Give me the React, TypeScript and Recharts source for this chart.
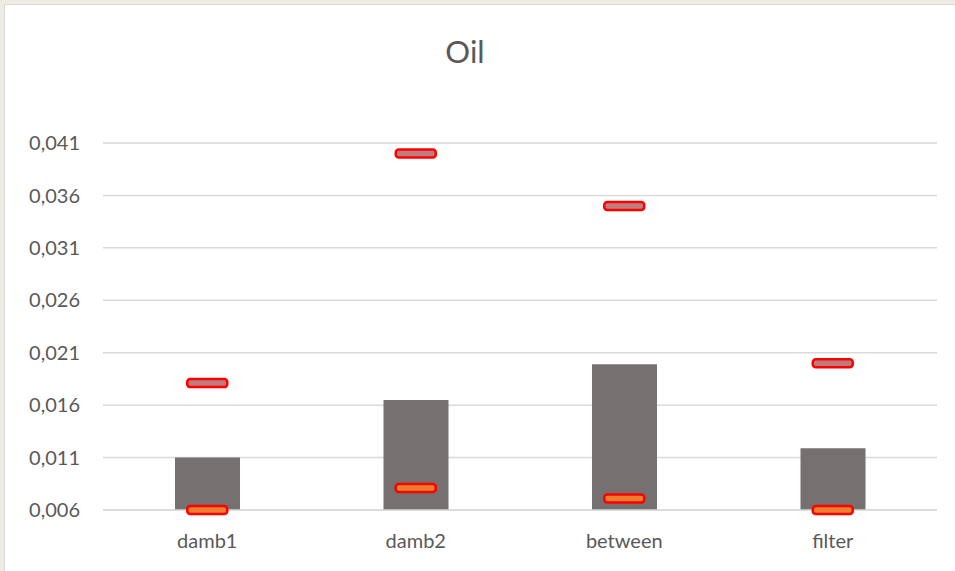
import React from "react";
import {
  ComposedChart,
  Bar,
  Line,
  XAxis,
  YAxis,
  CartesianGrid,
} from "recharts";

const categories = ["damb1", "damb2", "between", "filter"];
const meanValues = [0.011, 0.0165, 0.0199, 0.0119];
const maxValues = [0.0181, 0.04, 0.035, 0.02];
const minValues = [0.006, 0.0081, 0.0071, 0.006];
const yTicks = [0.006, 0.011, 0.016, 0.021, 0.026, 0.031, 0.036, 0.041];

const data = categories.map((name, i) => ({
  name,
  mean: meanValues[i],
  max: maxValues[i],
  min: minValues[i],
}));

const FONT = "Lato, 'Open Sans', sans-serif";
const TEXT = "#595959";

const Marker = (fill: string) => (props: any) => {
  const { cx, cy, index } = props;
  if (cx == null || cy == null) return <g key={index} />;
  return (
    <rect
      key={index}
      x={cx - 20}
      y={cy - 4}
      width={40}
      height={8}
      rx={3}
      fill={fill}
      stroke="#ff0000"
      strokeWidth={2.5}
    />
  );
};

export default function App() {
  return (
    <div
      style={{
        position: "fixed",
        left: 0,
        top: 0,
        width: 955,
        height: 571,
        background: "#eeebe3",
        overflow: "hidden",
        fontFamily: FONT,
      }}
    >
      <div
        style={{
          position: "absolute",
          left: 4,
          top: 4,
          width: 955,
          height: 571,
          background: "#fff",
          border: "1px solid #d9d9d9",
        }}
      />
      <div
        style={{
          position: "absolute",
          left: 0,
          top: 32,
          width: 930,
          textAlign: "center",
          fontSize: 31,
          color: TEXT,
        }}
      >
        Oil
      </div>
      <div style={{ position: "absolute", left: 0, top: 0 }}>
        <ComposedChart
          width={955}
          height={571}
          data={data}
          margin={{ top: 143, right: 18, bottom: 0, left: 0 }}
        >
          <CartesianGrid
            horizontal
            vertical={false}
            stroke="#d9d9d9"
            strokeWidth={1.5}
          />
          <XAxis
            dataKey="name"
            axisLine={{ stroke: "#d9d9d9", strokeWidth: 1.5 }}
            tickLine={false}
            tickSize={0}
            tickMargin={24}
            height={61}
            tick={{ fill: TEXT, fontSize: 20, fontFamily: FONT }}
          />
          <YAxis
            domain={[0.006, 0.041]}
            ticks={yTicks}
            interval={0}
            width={103}
            axisLine={false}
            tickLine={false}
            tickMargin={17}
            tickFormatter={(v: number) => v.toFixed(3).replace(".", ",")}
            tick={{ fill: TEXT, fontSize: 20, fontFamily: FONT }}
          />
          <Bar
            dataKey="mean"
            fill="#767171"
            barSize={65}
            isAnimationActive={false}
          />
          <Line
            dataKey="max"
            stroke="none"
            dot={Marker("#c07c7c")}
            activeDot={false}
            isAnimationActive={false}
          />
          <Line
            dataKey="min"
            stroke="none"
            dot={Marker("#ed7d31")}
            activeDot={false}
            isAnimationActive={false}
          />
        </ComposedChart>
      </div>
    </div>
  );
}
